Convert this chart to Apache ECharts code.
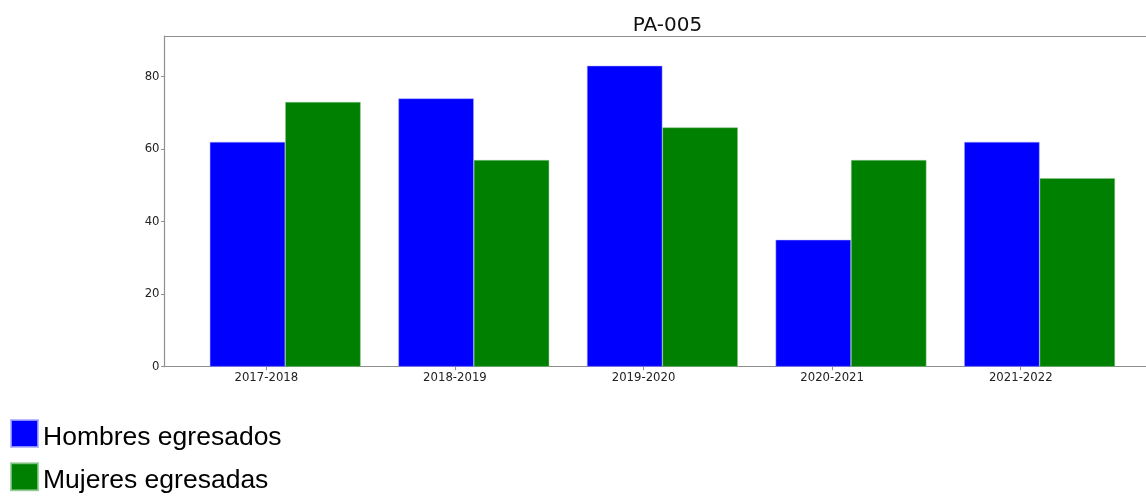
<!DOCTYPE html>
<html>
<head>
<meta charset="utf-8">
<script src="https://cdn.jsdelivr.net/npm/echarts@6/dist/echarts.min.js"></script>
<style>
  html, body { margin: 0; padding: 0; background: #fff; }
  #chart { width: 1146px; height: 497px; }
</style>
</head>
<body>
<div id="chart"></div>
<script>
// Egresados por ciclo escolar
const categories = ['2017-2018', '2018-2019', '2019-2020', '2020-2021', '2021-2022'];
const hombres = [62, 74, 83, 35, 62];
const mujeres = [73, 57, 66, 57, 52];
const yTicks = [0, 20, 40, 60, 80];
const seriesNames = ['Hombres egresados', 'Mujeres egresadas'];

// bar geometry in axis units: each pair sits at i + offset, width 0.4
const barW = 0.4;
const offsets = [-0.1, 0.3];
const xMin = -0.54, xFullMax = 4.74;   // full data limits of the axes box
const yMax = 91.2;

const gridLeft = 164.5, gridTop = 36, gridHeight = 330.7;
const pxPerUnit = 188.6;
const chartWidth = 1146;
// the axes box runs past the right edge of the canvas; show the visible part
const gridWidth = chartWidth - gridLeft;
const xMax = xMin + gridWidth / pxPerUnit;
const titleCenter = gridLeft + ((xMin + xFullMax) / 2 - xMin) * pxPerUnit;

const spine = { show: true, lineStyle: { color: '#8f8f8f', width: 1.2 } };
const tickFont = { fontFamily: 'DejaVu Sans', fontSize: 11.7, color: '#222' };

const chart = echarts.init(document.getElementById('chart'), null, { renderer: 'canvas' });
chart.setOption({
  animation: false,
  backgroundColor: '#fff',
  title: {
    text: 'PA-005',
    left: titleCenter,
    textAlign: 'center',
    top: 11,
    textStyle: { fontFamily: 'DejaVu Sans', fontSize: 20, fontWeight: 'normal', color: '#111' }
  },
  legend: {
    orient: 'vertical',
    left: 10,
    top: 419,
    height: 160,
    itemWidth: 27,
    itemHeight: 27,
    itemGap: 11.3,
    padding: 0,
    icon: 'rect',
    formatter: name => '{t|' + name + '}',
    textStyle: {
      rich: {
        t: { fontFamily: 'Liberation Sans', fontSize: 26.5, color: '#000', padding: [8, 0, 0, 0] }
      }
    },
    data: seriesNames
  },
  grid: { left: gridLeft, top: gridTop, width: gridWidth, height: gridHeight },
  xAxis: [
    {
      type: 'value', min: xMin, max: xMax,
      splitLine: { show: false },
      axisLine: spine,
      axisTick: { show: true, length: 3.5, lineStyle: { color: '#8f8f8f' }, customValues: categories.map((c, i) => i) },
      axisLabel: {
        ...tickFont, margin: 5,
        customValues: categories.map((c, i) => i),
        formatter: v => categories[Math.round(v)]
      }
    },
    {
      type: 'value', position: 'top', min: xMin, max: xMax,
      splitLine: { show: false }, axisLine: spine,
      axisTick: { show: false }, axisLabel: { show: false }
    }
  ],
  yAxis: {
    type: 'value', min: 0, max: yMax,
    splitLine: { show: false },
    axisLine: { ...spine, onZero: false },
    axisTick: { show: true, length: 3.5, lineStyle: { color: '#8f8f8f' }, customValues: yTicks },
    axisLabel: { ...tickFont, margin: 5, customValues: yTicks }
  },
  series: [hombres, mujeres].map((vals, s) => ({
    name: seriesNames[s],
    type: 'bar',
    xAxisIndex: 0,
    barWidth: barW * pxPerUnit,
    barGap: '-100%',
    itemStyle: {
      color: s === 0 ? '#0000ff' : '#008000',
      borderColor: s === 0 ? 'rgba(170,170,255,0.8)' : 'rgba(140,200,140,0.8)',
      borderWidth: 0.6
    },
    data: vals.map((v, i) => [i + offsets[s], v])
  }))
});
</script>
</body>
</html>
